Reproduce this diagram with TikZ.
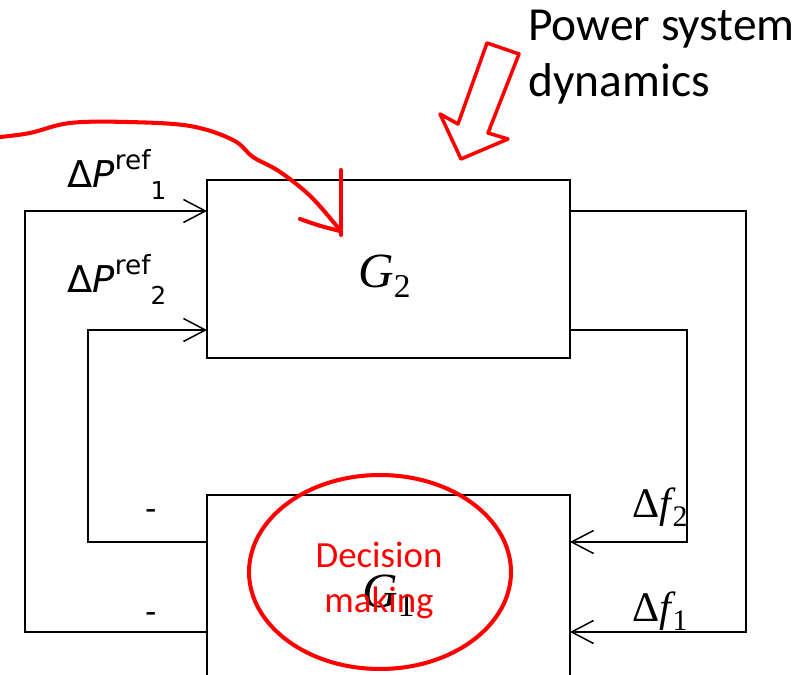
\documentclass[tikz,border=0pt]{standalone}
\usepackage{fontspec}
\setmainfont{Carlito}
\newfontfamily\serifG{Liberation Serif}
\newfontfamily\sansP{DejaVu Sans}
\usetikzlibrary{arrows.meta,shapes.geometric}

\begin{document}
\begin{tikzpicture}[x=0.02cm, y=-0.02cm, every node/.style={inner sep=0pt},
    bloque/.style={draw, line width=0.85pt, outer sep=0pt, minimum width=7.26cm},
    senal/.style={line width=0.85pt, -{Straight Barb[length=0.44cm, width=0.46cm]}},
    marca/.style={red, line width=2.3pt, line cap=round, line join=round}]
    \clip (0,0) rectangle (812,675);

    % Bloques G2 y G1
    \node[bloque, minimum height=3.56cm] (g2) at (388.5,269) {};
    \node[bloque, minimum height=5.3cm] (g1) at (388.5,627.5) {};
    \node[anchor=base west, font=\serifG\fontsize{28}{28}\selectfont] (g2lab) at (358,288) {\textit{G}\raisebox{-0.2em}{\fontsize{19}{19}\selectfont 2}};
    \node[anchor=base west, font=\serifG\fontsize{28}{28}\selectfont] (g1lab) at (362,607) {\textit{G}\raisebox{-0.2em}{\fontsize{19}{19}\selectfont 1}};

    % Esquinas de los lazos
    \coordinate (ol1) at (25,211);
    \coordinate (ol2) at (25,632);
    \coordinate (il1) at (88,330);
    \coordinate (il2) at (88,542);
    \coordinate (or1) at (746,211);
    \coordinate (or2) at (746,632);
    \coordinate (ir1) at (687,330);
    \coordinate (ir2) at (687,542);

    % Lazos de realimentacion
    \draw[senal] (g1.west |- ol2) -- (ol2) -- (ol1) -- (g2.west |- ol1);
    \draw[senal] (g1.west |- il2) -- (il2) -- (il1) -- (g2.west |- il1);
    \draw[senal] (g2.east |- or1) -- (or1) -- (or2) -- (g1.east |- or2);
    \draw[senal] (g2.east |- ir1) -- (ir1) -- (ir2) -- (g1.east |- ir2);

    % Etiquetas de las senales
    \node[anchor=base west, font=\sansP\fontsize{21}{21}\selectfont] (dp1) at (67,188) {Δ\textit{P}\raisebox{0.5em}{\fontsize{15}{15}\selectfont ref}\raisebox{-0.3em}{\fontsize{14}{14}\selectfont 1}};
    \node[anchor=base west, font=\sansP\fontsize{21}{21}\selectfont] (dp2) at (67,293) {Δ\textit{P}\raisebox{0.5em}{\fontsize{15}{15}\selectfont ref}\raisebox{-0.3em}{\fontsize{14}{14}\selectfont 2}};
    \node[anchor=base west, font=\serifG\fontsize{24}{24}\selectfont] (df2) at (632,518) {Δ\textit{f}\kern-0.08em\raisebox{-0.2em}{\fontsize{17}{17}\selectfont 2}};
    \node[anchor=base west, font=\serifG\fontsize{24}{24}\selectfont] (df1) at (632,622) {Δ\textit{f}\kern-0.08em\raisebox{-0.2em}{\fontsize{17}{17}\selectfont 1}};
    \node[font=\sansP\fontsize{18}{18}\selectfont] (neg2) at (151,515) {-};
    \node[font=\sansP\fontsize{18}{18}\selectfont] (neg1) at (151,618) {-};

    % Anotaciones en rojo
    \node[anchor=base west, align=left, font=\fontsize{27}{32.4}\selectfont] (psd) at (528,97) {Power system\\dynamics};
    \draw[marca, line width=2pt] (487,43) -- (519,54) -- (488,133) -- (508,139) -- (461,159) -- (440,114) -- (458,124) -- cycle;
    \draw[marca] plot[smooth, tension=0.6] coordinates {(0,137) (30,133) (70,123) (127,122) (190,126) (233,140) (253,157) (277,170) (300,187) (317,203) (340,230)};
    \draw[marca] (341,170) -- (341,235);
    \draw[marca] (300,219) .. controls (320,226) .. (340,231);
    \node[ellipse, draw=red, line width=2.3pt, minimum width=5.24cm, minimum height=3.88cm] (dm) at (380,572) {};
    \node[red, align=center, font=\fontsize{21}{25.6}\selectfont] (dmtext) at (379,580) {Decision\\making};
\end{tikzpicture}
\end{document}
